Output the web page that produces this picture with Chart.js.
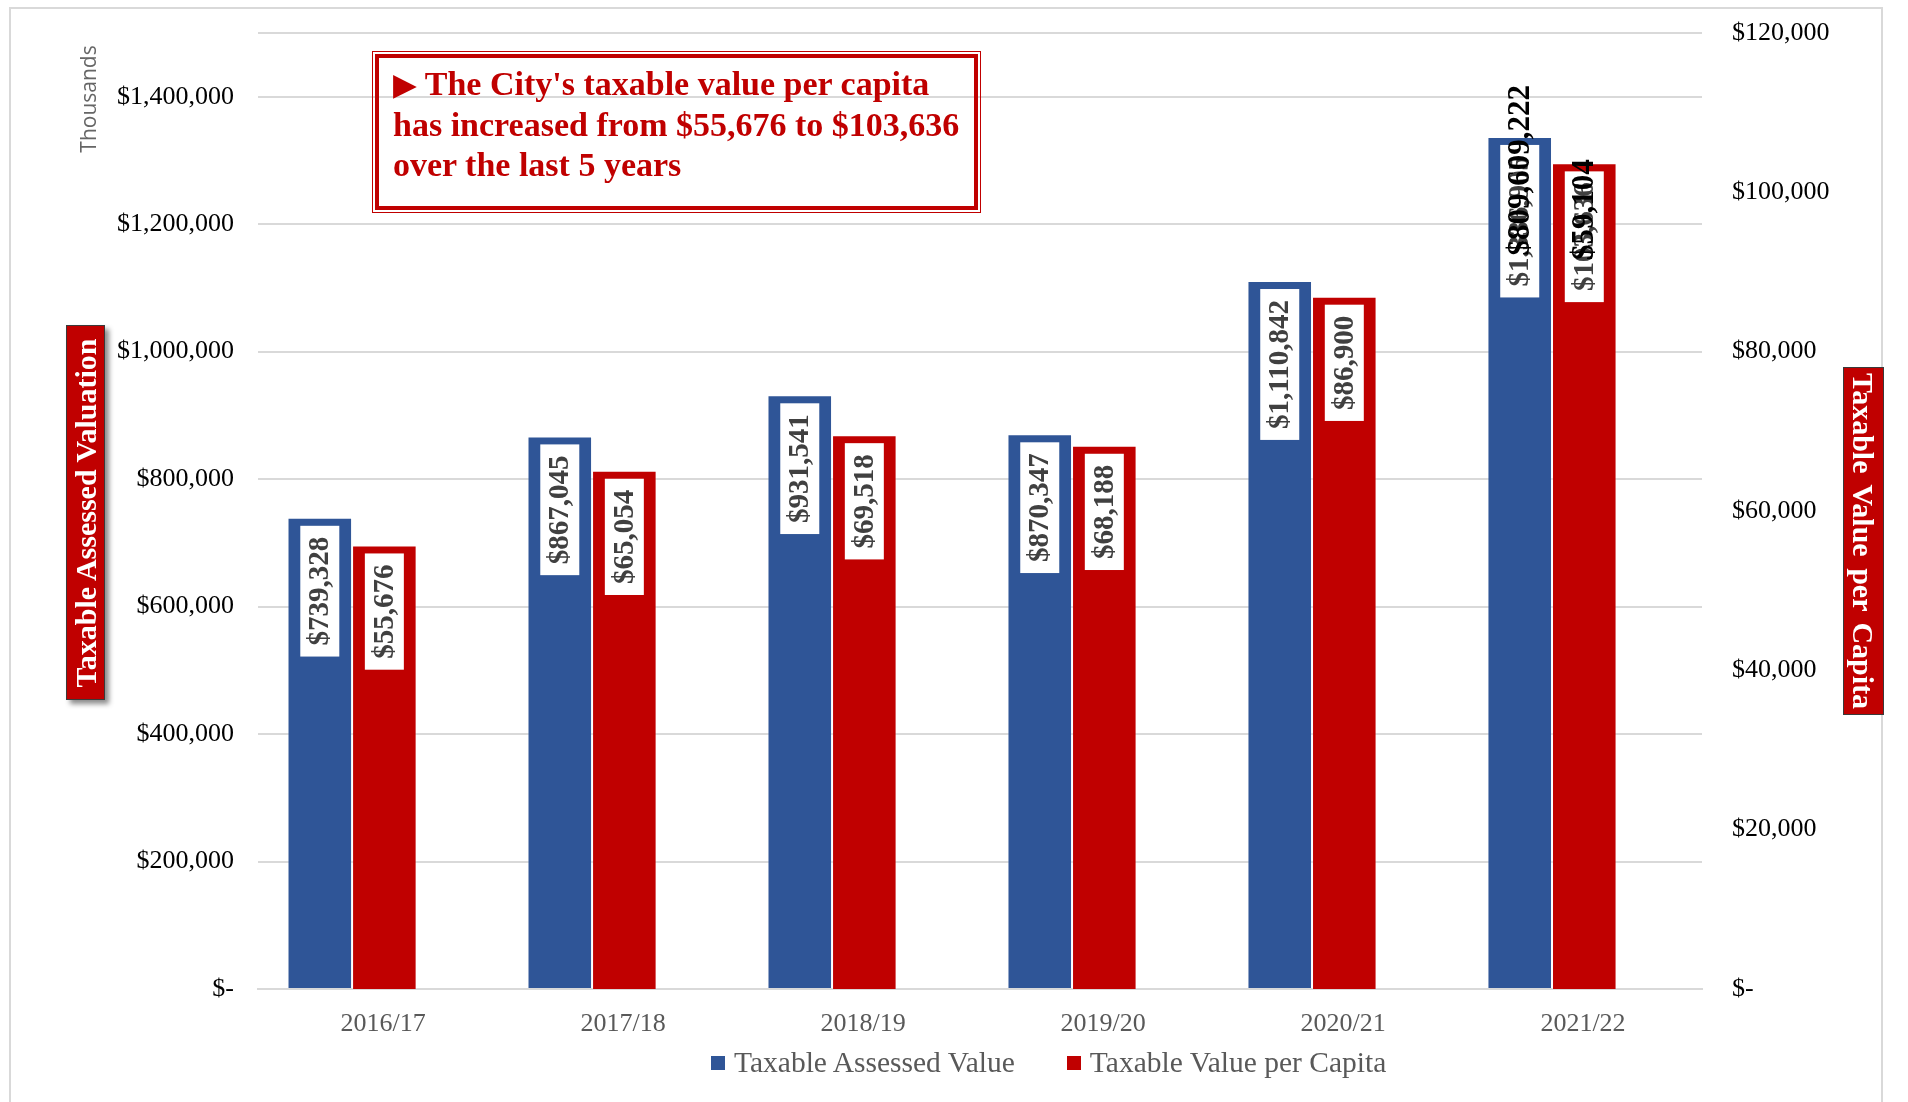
<!DOCTYPE html>
<html>
<head>
<meta charset="utf-8">
<script src="https://cdn.jsdelivr.net/npm/chart.js@4.4.0/dist/chart.umd.min.js"></script>
<style>
  body { margin: 0; background: #fff; }
  #chart_container { position: relative; width: 1908px; height: 1102px; overflow: hidden; }
  #frame { position: absolute; left: 9px; top: 7px; width: 1874px; height: 1100px; border: 2px solid #d9d9d9; box-sizing: border-box; }
  .callout {
    position: absolute; left: 375px; top: 54px; width: 603px; height: 156px; box-sizing: border-box;
    border: 4px solid #C00000; outline: 1px solid #C00000; outline-offset: 2px;
    padding: 6px 0 0 14px; color: #C00000; font: bold 34px/40.5px "Liberation Serif", serif; white-space: nowrap;
  }
  .callout .arrow { font-family: "DejaVu Sans", sans-serif; font-size: 31px; }
  .axis_box {
    position: absolute; background: #C00000; color: #fff; font: bold 30px "Liberation Serif", serif;
    display: flex; align-items: center; justify-content: center; box-sizing: border-box; white-space: nowrap;
  }
  #left_title { left: 66px; top: 325px; width: 39px; height: 375px; border: 1px solid #3a3a3a; box-shadow: 4px 4px 5px rgba(0,0,0,0.45); }
  #left_title span { transform: rotate(-90deg); }
  #right_title { left: 1843px; top: 367px; width: 41px; height: 348px; border: 1px solid #3a3a3a; }
  #right_title span { transform: rotate(90deg); word-spacing: 4px; }
  #thousands { position: absolute; left: 88px; top: 99px; transform: translate(-50%, -50%) rotate(-90deg); color: #666; font: 21px "Open Sans", sans-serif; }
  #legend { position: absolute; left: 711px; top: 1046px; display: flex; align-items: center; font: 29.5px "Liberation Serif", serif; color: #595959; }
  .legend_item { display: flex; align-items: center; margin-right: 52px; }
  .legend_box { width: 14px; height: 14px; margin-right: 9px; }
</style>
</head>
<body>
<div id="chart_container">
  <canvas id="myChart"></canvas>
  <div id="frame"></div>
</div>
<script>
const years = ['2016/17', '2017/18', '2018/19', '2019/20', '2020/21', '2021/22'];
// left axis is in thousands
const assessedValue = [739328, 867045, 931541, 870347, 1110842, 1336905];
const valuePerCapita = [55676, 65054, 69518, 68188, 86900, 103636];
// old labels left behind on the last year in the original
const staleAssessed = ['', '', '', '', '', '$809,609,222'];
const stalePerCapita = ['', '', '', '', '', '$59,104'];
const leftTicks = [0, 200000, 400000, 600000, 800000, 1000000, 1200000, 1400000];
const leftMax = 1500000;
const rightTicks = [0, 20000, 40000, 60000, 80000, 100000, 120000];

const BLUE = '#2F5597';
const RED = '#C00000';

// bars sit a bit left of their year labels in the original, so x is linear
const xMin = -0.392;
const xMax = 5.625;

function money(v) {
  if (v === 0) return '$-';
  return '$' + v.toLocaleString('en-US');
}

function toPoints(values) {
  return values.map((v, i) => ({ x: i, y: v }));
}

// keep the tick padding from pushing the plot down
function noVerticalPadding(scale) {
  scale.paddingTop = 0;
  scale.paddingBottom = 0;
}

// white boxed labels standing up inside the top of each bar
const barLabels = {
  id: 'barLabels',
  afterDatasetsDraw(chart) {
    const ctx = chart.ctx;
    chart.data.datasets.forEach((ds, i) => {
      const meta = chart.getDatasetMeta(i);
      meta.data.forEach((bar, j) => {
        const text = money(ds.data[j].y);
        ctx.save();
        ctx.font = 'bold 29px "Liberation Serif", serif';
        const len = ctx.measureText(text).width + 22;
        ctx.translate(bar.x, bar.y + 8);
        ctx.rotate(-Math.PI / 2);
        ctx.fillStyle = '#fff';
        ctx.fillRect(-len, -19.5, len, 39);
        ctx.fillStyle = '#404040';
        ctx.textAlign = 'center';
        ctx.textBaseline = 'middle';
        ctx.fillText(text, -len / 2, 1);
        const stale = ds.stale[j];
        if (stale) {
          ctx.font = 'bold 31px "Liberation Serif", serif';
          ctx.fillStyle = '#000';
          ctx.textAlign = 'left';
          ctx.fillText(stale, -len + 42, 1);
        }
        ctx.restore();
      });
    });
  }
};

function buildLegend(chart) {
  const legend = document.createElement('div');
  legend.id = 'legend';
  chart.data.datasets.forEach((ds) => {
    const item = document.createElement('div');
    item.className = 'legend_item';
    item.innerHTML = `<span class="legend_box" style="background:${ds.backgroundColor}"></span><span>${ds.label}</span>`;
    legend.appendChild(item);
  });
  document.getElementById('chart_container').appendChild(legend);
}

function addOverlays() {
  const container = document.getElementById('chart_container');
  const callout = document.createElement('div');
  callout.className = 'callout';
  callout.innerHTML = `<span class="arrow">&#9654;</span> The City's taxable value per capita<br>has increased from $55,676 to $103,636<br>over the last 5 years`;
  container.appendChild(callout);

  const left = document.createElement('div');
  left.id = 'left_title';
  left.className = 'axis_box';
  left.innerHTML = '<span>Taxable Assessed Valuation</span>';
  container.appendChild(left);

  const right = document.createElement('div');
  right.id = 'right_title';
  right.className = 'axis_box';
  right.innerHTML = '<span>Taxable Value per Capita</span>';
  container.appendChild(right);

  const th = document.createElement('div');
  th.id = 'thousands';
  th.textContent = 'Thousands';
  container.appendChild(th);
}

const ctx = document.getElementById('myChart').getContext('2d');
const myChart = new Chart(ctx, {
  type: 'bar',
  data: {
    datasets: [{
      label: 'Taxable Assessed Value',
      data: toPoints(assessedValue),
      stale: staleAssessed,
      backgroundColor: BLUE,
      borderColor: 'rgba(255,255,255,0.35)',
      borderWidth: 1,
      yAxisID: 'y',
      categoryPercentage: 0.538,
      barPercentage: 1
    }, {
      label: 'Taxable Value per Capita',
      data: toPoints(valuePerCapita),
      stale: stalePerCapita,
      backgroundColor: RED,
      borderColor: 'rgba(255,255,255,0.35)',
      borderWidth: 1,
      yAxisID: 'y1',
      categoryPercentage: 0.538,
      barPercentage: 1
    }]
  },
  options: {
    responsive: true,
    maintainAspectRatio: false,
    animation: false,
    layout: { padding: { top: 33, left: 0, right: 0, bottom: 0 } },
    plugins: {
      legend: { display: false },
      tooltip: { enabled: false }
    },
    scales: {
      x: {
        type: 'linear',
        min: xMin,
        max: xMax,
        offset: false,
        afterBuildTicks(scale) {
          scale.ticks = years.map((y, i) => ({ value: i }));
        },
        grid: { display: false },
        border: { display: true, color: '#d9d9d9', width: 2 },
        ticks: {
          color: '#595959',
          padding: 12,
          labelOffset: 31,
          font: { family: 'Liberation Serif', size: 26 },
          callback: (v) => years[v]
        },
        afterFit(scale) { scale.height = 113; }
      },
      y: {
        position: 'left',
        min: 0,
        max: leftMax,
        afterBuildTicks(scale) {
          scale.ticks = leftTicks.concat([leftMax]).map((v) => ({ value: v }));
        },
        grid: { color: '#d9d9d9', lineWidth: 2, drawTicks: false },
        border: { display: false },
        ticks: {
          color: '#000',
          padding: 24,
          font: { family: 'Liberation Serif', size: 26 },
          callback: (v) => (v === leftMax ? '' : money(v))
        },
        afterFit(scale) {
          scale.width = 258;
          noVerticalPadding(scale);
        }
      },
      y1: {
        position: 'right',
        min: 0,
        max: rightTicks[rightTicks.length - 1],
        afterBuildTicks(scale) {
          scale.ticks = rightTicks.map((v) => ({ value: v }));
        },
        grid: { display: false, drawTicks: false },
        border: { display: false },
        ticks: {
          color: '#000',
          padding: 30,
          font: { family: 'Liberation Serif', size: 26 },
          callback: (v) => money(v)
        },
        afterFit(scale) {
          scale.width = 206;
          noVerticalPadding(scale);
        }
      }
    }
  },
  plugins: [barLabels]
});

addOverlays();
buildLegend(myChart);
</script>
</body>
</html>
